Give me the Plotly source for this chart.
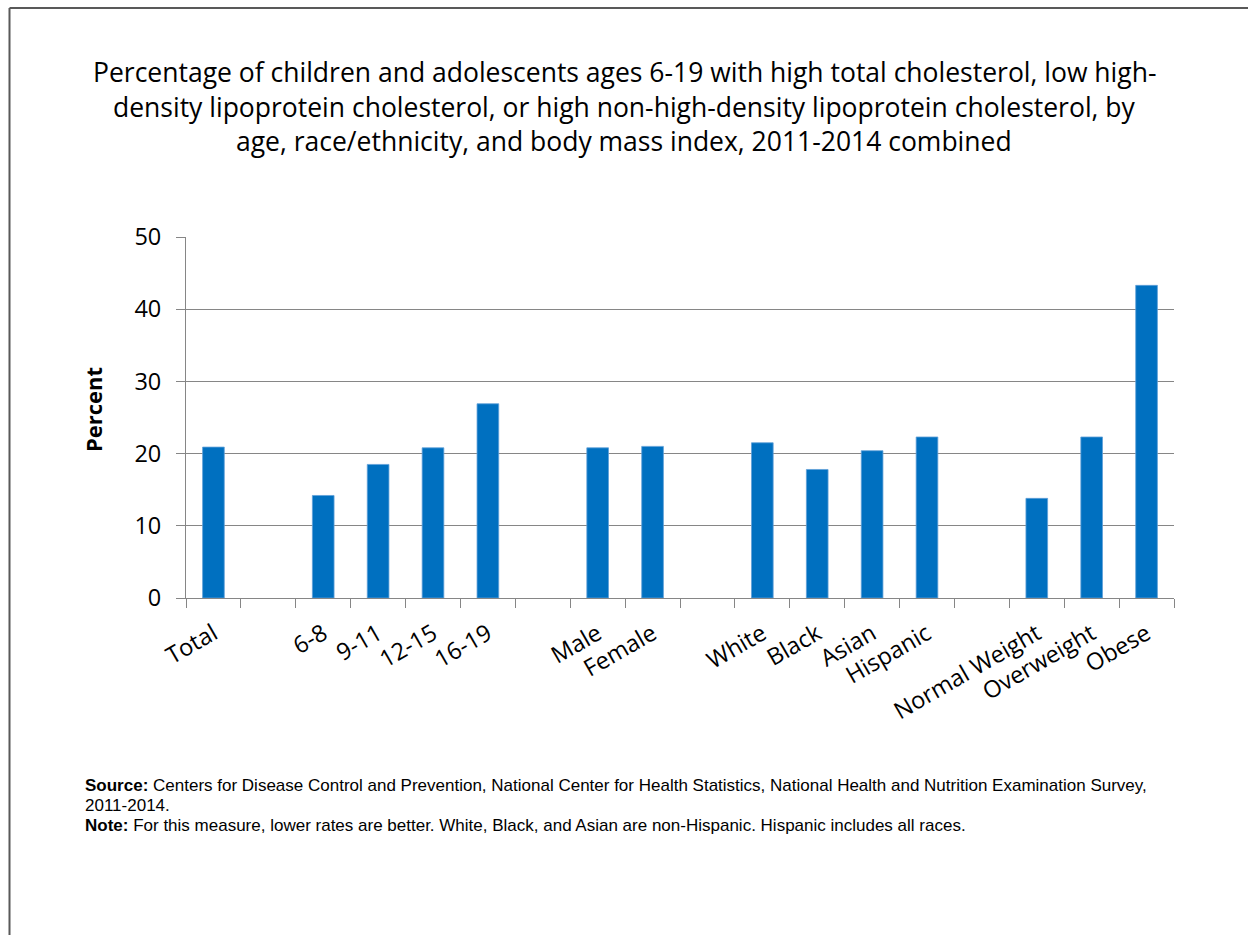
import plotly.graph_objects as go

# Chart data
categories = ["Total", " ", "6-8", "9-11", "12-15", "16-19", "  ", "Male", "Female", "   ",
              "White", "Black", "Asian", "Hispanic", "    ", "Normal Weight", "Overweight", "Obese"]
percent = [20.9, None, 14.2, 18.5, 20.8, 26.9, None, 20.8, 21.0, None,
           21.5, 17.8, 20.4, 22.3, None, 13.8, 22.3, 43.3]

title_lines = [
    "Percentage of children and adolescents ages 6-19 with high total cholesterol, low high-",
    "density lipoprotein cholesterol, or high non-high-density lipoprotein cholesterol, by",
    "age, race/ethnicity, and body mass index, 2011-2014 combined",
]
source_lines = [
    "<b>Source:</b> Centers for Disease Control and Prevention, National Center for Health Statistics, National Health and Nutrition Examination Survey,",
    "2011-2014.",
    "<b>Note:</b> For this measure, lower rates are better. White, Black, and Asian are non-Hispanic. Hispanic includes all races.",
]

W, H = 1248, 935
L, R, T, B = 186, 1174, 237, 598  # plot area in pixels


def px_x(px):
    return (px - L) / (R - L)


def px_y(py):
    return (B - py) / (B - T)


GRID = "#868686"
FONT = "Open Sans"

fig = go.Figure(
    go.Bar(
        x=categories,
        y=percent,
        marker=dict(color="#0070C0", line=dict(color="#5fa0d8", width=0.8)),
        hoverinfo="x+y",
    )
)

fig.update_layout(
    width=W,
    height=H,
    margin=dict(l=L, r=W - R, t=T, b=H - B, pad=0),
    paper_bgcolor="white",
    plot_bgcolor="white",
    bargap=0.605,
    showlegend=False,
    font=dict(family=FONT, color="black"),
)

fig.update_xaxes(
    type="category",
    categoryorder="array",
    categoryarray=categories,
    tickangle=-30,
    tickson="boundaries",
    ticks="outside",
    ticklen=9,
    tickcolor=GRID,
    showline=True,
    linecolor=GRID,
    linewidth=1,
    showgrid=False,
    ticklabelstandoff=12,
    tickfont=dict(family=FONT, size=23.5, color="black"),
)

fig.update_yaxes(
    range=[0, 50],
    dtick=10,
    ticks="outside",
    ticklen=9,
    tickcolor=GRID,
    showline=True,
    linecolor=GRID,
    linewidth=1,
    showgrid=True,
    gridcolor=GRID,
    gridwidth=1,
    zeroline=False,
    ticklabelstandoff=10,
    tickfont=dict(family=FONT, size=23.5, color="black"),
)

annotations = []
# Title, three centred lines
for i, line in enumerate(title_lines):
    annotations.append(dict(
        text=line, xref="paper", yref="paper",
        x=px_x(624), y=px_y(72 + 34.5 * i),
        xanchor="center", yanchor="middle", showarrow=False,
        font=dict(family=FONT, size=26.5, color="black"),
    ))

# Y axis title
annotations.append(dict(
    text="<b>Percent</b>", xref="paper", yref="paper",
    x=px_x(93), y=px_y(410), textangle=-90,
    xanchor="center", yanchor="middle", showarrow=False,
    font=dict(family=FONT, size=22, color="black"),
))

# Source and note footnotes
for i, line in enumerate(source_lines):
    annotations.append(dict(
        text=line, xref="paper", yref="paper",
        x=px_x(83), y=px_y(785 + 20 * i),
        xanchor="left", yanchor="middle", showarrow=False, align="left",
        font=dict(family="Liberation Sans, Arial", size=17, color="black"),
    ))

fig.update_layout(annotations=annotations)

# Outer frame: top and left edges
frame_top, frame_left = 8, 9.5
fig.add_shape(type="line", xref="paper", yref="paper",
              x0=px_x(frame_left), x1=px_x(W + 20), y0=px_y(frame_top), y1=px_y(frame_top),
              line=dict(color="#595959", width=2))
fig.add_shape(type="line", xref="paper", yref="paper",
              x0=px_x(frame_left), x1=px_x(frame_left), y0=px_y(frame_top), y1=px_y(H + 20),
              line=dict(color="#595959", width=2))

fig.write_html("out.html")
